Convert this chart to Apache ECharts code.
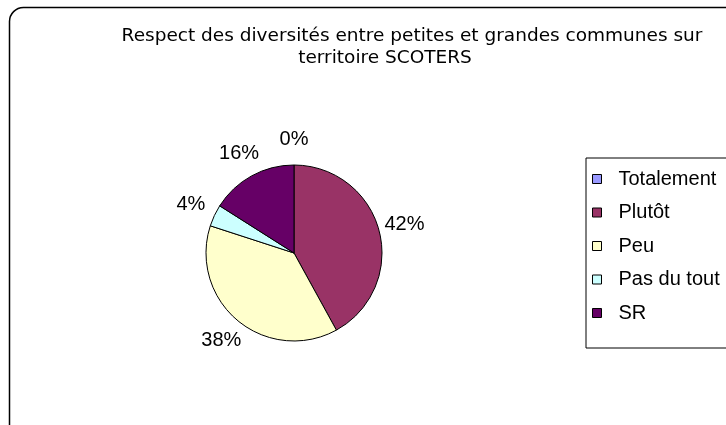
<!DOCTYPE html>
<html>
<head>
<meta charset="utf-8">
<script src="https://cdn.jsdelivr.net/npm/echarts@6/dist/echarts.min.js"></script>
<style>html,body{margin:0;padding:0;background:#fff}#c{width:726px;height:425px}</style>
</head>
<body>
<div id="c"></div>
<script>
const categories = ['Totalement', 'Plutôt', 'Peu', 'Pas du tout', 'SR'];
const values = [0, 21, 19, 2, 8];
const colors = ['#9999FF', '#993366', '#FFFFCC', '#CCFFFF', '#660066'];
const titleLine1 = 'Respect des diversités entre petites et grandes communes sur';
const titleLine2 = 'territoire SCOTERS';

const CX = 294, CY = 253, R = 88, LABEL_DIST = 114;
const total = values.reduce((a, b) => a + b, 0);
const midAngles = [];
{
  let cum = 0;
  values.forEach(v => { midAngles.push((cum + v / 2) / total * 2 * Math.PI); cum += v; });
}

const chart = echarts.init(document.getElementById('c'), null, {renderer: 'canvas'});
chart.setOption({
  animation: false,
  backgroundColor: '#fff',
  graphic: [{
    type: 'rect', z: -1,
    shape: {x: 9.5, y: 7.5, width: 740, height: 440, r: 14},
    style: {fill: 'none', stroke: '#000', lineWidth: 1.5}
  }],
  title: [
    {text: titleLine1, left: 412, top: 27, textAlign: 'center', padding: 0,
     textStyle: {fontFamily: 'DejaVu Sans', fontSize: 18.5, fontWeight: 'normal', color: '#000'}},
    {text: titleLine2, left: 385, top: 49, textAlign: 'center', padding: 0,
     textStyle: {fontFamily: 'DejaVu Sans', fontSize: 18.5, fontWeight: 'normal', color: '#000'}}
  ],
  legend: {
    orient: 'vertical', left: 586, top: 158,
    padding: [10, 60, 24, 6],
    borderColor: '#000', borderWidth: 1,
    itemWidth: 9, itemHeight: 9, itemGap: 11.5, icon: 'rect',
    itemStyle: {borderColor: '#000', borderWidth: 1},
    textStyle: {fontFamily: 'Liberation Sans', fontSize: 20, color: '#000', lineHeight: 22, padding: [0, 0, 0, 12]},
    data: categories
  },
  series: [{
    type: 'pie',
    center: [CX, CY], radius: R,
    startAngle: 90, clockwise: true,
    percentPrecision: 0,
    avoidLabelOverlap: false,
    data: categories.map((c, i) => ({name: c, value: values[i], itemStyle: {color: colors[i]}})),
    itemStyle: {borderColor: '#000', borderWidth: 1},
    label: {show: true, position: 'outside', formatter: '{d}%',
      fontFamily: 'Liberation Sans', fontSize: 20, color: '#000'},
    labelLine: {show: false, length: 8, length2: 0},
    labelLayout: function (p) {
      const a = midAngles[p.dataIndex];
      return {x: CX + LABEL_DIST * Math.sin(a), y: CY - LABEL_DIST * Math.cos(a),
              align: 'center', verticalAlign: 'middle'};
    },
    emphasis: {disabled: true}
  }]
});
</script>
</body>
</html>
